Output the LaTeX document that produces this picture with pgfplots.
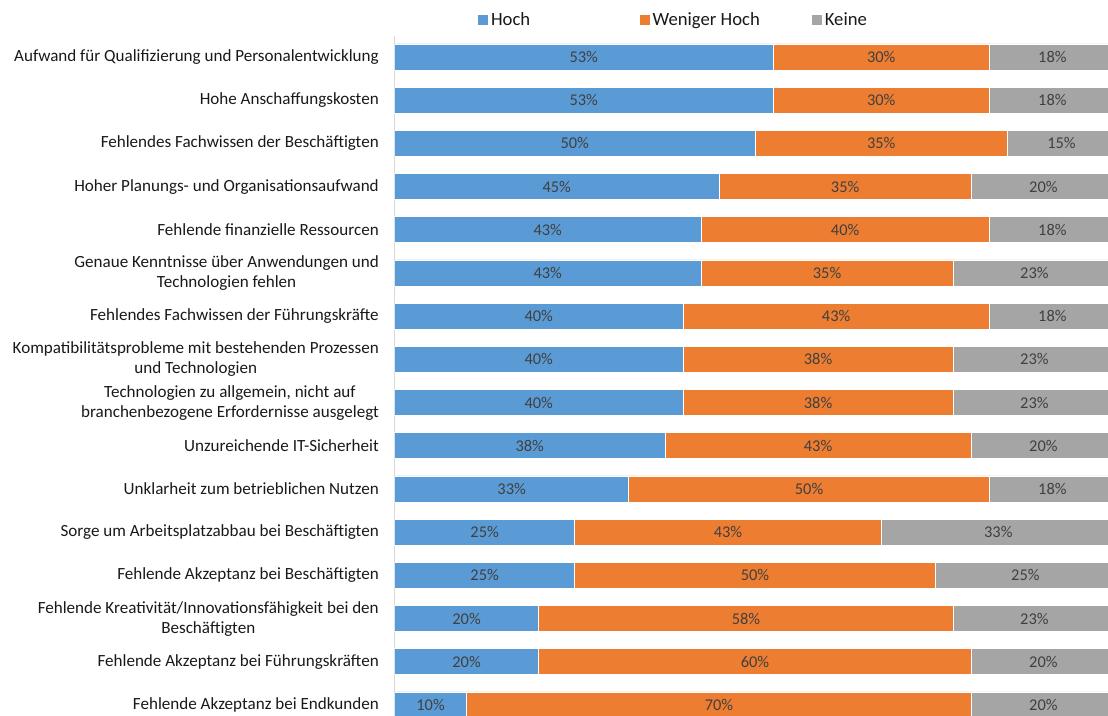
\documentclass[border=0pt]{standalone}
\usepackage{fontspec}
\setmainfont{Carlito}
\usepackage{pgfplots}
\usepackage{pgfplotstable}
\pgfplotsset{compat=1.18}
\definecolor{cHoch}{HTML}{5B9BD5}
\definecolor{cWen}{HTML}{ED7D31}
\definecolor{cKei}{HTML}{A5A5A5}
\definecolor{cLab}{HTML}{404040}
\definecolor{cAx}{HTML}{D9D9D9}
\newcommand\pct{\%}

\pgfplotstableread{
idx hoch wen kei lh lw lk
0 52.5 30 17.5 53 30 18
1 52.5 30 17.5 53 30 18
2 50 35 15 50 35 15
3 45 35 20 45 35 20
4 42.5 40 17.5 43 40 18
5 42.5 35 22.5 43 35 23
6 40 42.5 17.5 40 43 18
7 40 37.5 22.5 40 38 23
8 40 37.5 22.5 40 38 23
9 37.5 42.5 20 38 43 20
10 32.5 50 17.5 33 50 18
11 25 42.5 32.5 25 43 33
12 25 50 25 25 50 25
13 20 57.5 22.5 20 58 23
14 20 60 20 20 60 20
15 10 70 20 10 70 20
}\datatable

\pgfplotsset{
  commonax/.style={
    scale only axis,
    x=5.4075pt, y=32.4pt,
    y dir=reverse,
    xmin=0, xmax=98.96,
    ymin=-0.486, ymax=15.255,
  }
}

\begin{document}
\begin{tikzpicture}
\begin{axis}[
  name=ax,
  commonax,
  xbar stacked,
  bar width=19.5pt,
  axis x line=none,
  axis y line*=left,
  y axis line style={draw=cAx, line width=0.8pt},
  ytick={0,...,15},
  major tick length=0pt,
  ytick style={draw=none},
  yticklabels={
    {Aufwand für Qualifizierung und Personalentwicklung},
    {Hohe Anschaffungskosten},
    {Fehlendes Fachwissen der Beschäftigten},
    {Hoher Planungs- und Organisationsaufwand},
    {Fehlende finanzielle Ressourcen},
    {Genaue Kenntnisse über Anwendungen und\\Technologien fehlen},
    {Fehlendes Fachwissen der Führungskräfte},
    {Kompatibilitätsprobleme mit bestehenden Prozessen\\und Technologien},
    {Technologien zu allgemein, nicht auf\\branchenbezogene Erfordernisse ausgelegt},
    {Unzureichende IT-Sicherheit},
    {Unklarheit zum betrieblichen Nutzen},
    {Sorge um Arbeitsplatzabbau bei Beschäftigten},
    {Fehlende Akzeptanz bei Beschäftigten},
    {Fehlende Kreativität/Innovationsfähigkeit bei den\\Beschäftigten},
    {Fehlende Akzeptanz bei Führungskräften},
    {Fehlende Akzeptanz bei Endkunden}},
  yticklabel style={align=center, font=\fontsize{12.8}{15}\selectfont, text=black!90, inner xsep=0pt, xshift=-11.6pt},
  legend columns=3,
  legend image code/.code={\fill[#1,draw=none] (0pt,-3.75pt) rectangle (7.5pt,3.75pt);},
  legend style={draw=none, fill=none, at={(0.3896,1)}, anchor=center, yshift=12pt,
    font=\fontsize{14}{16}\selectfont, text=black!90,
    nodes={inner xsep=0pt},
    /tikz/every odd column/.style={column sep=2.3pt},
    /tikz/column 2/.style={column sep=82pt},
    /tikz/column 4/.style={column sep=39pt}},
]
\addplot[fill=cHoch, draw=white, line width=0.5pt] table[x=hoch, y=idx] \datatable;
\addplot[fill=cWen, draw=white, line width=0.5pt] table[x=wen, y=idx] \datatable;
\addplot[fill=cKei, draw=white, line width=0.5pt] table[x=kei, y=idx] \datatable;
\legend{Hoch, Weniger Hoch, Keine}
\end{axis}
\begin{axis}[
  commonax,
  at={(ax.south west)}, anchor=south west,
  hide axis,
  clip=false,
  point meta=explicit symbolic,
  nodes near coords={\pgfplotspointmeta\pct},
  every node near coord/.append style={anchor=center, font=\fontsize{12.3}{14}\selectfont, text=cLab},
]
\addplot[only marks, mark=none] table[x expr=\thisrow{hoch}/2, y=idx, meta=lh] \datatable;
\addplot[only marks, mark=none] table[x expr=\thisrow{hoch}+\thisrow{wen}/2, y=idx, meta=lw] \datatable;
\addplot[only marks, mark=none] table[x expr=\thisrow{hoch}+\thisrow{wen}+\thisrow{kei}/2, y=idx, meta=lk] \datatable;
\end{axis}
\pgfresetboundingbox
\path[use as bounding box] ([xshift=-295.875pt]ax.south west) rectangle ([yshift=537pt]ax.south east);
\end{tikzpicture}
\end{document}
